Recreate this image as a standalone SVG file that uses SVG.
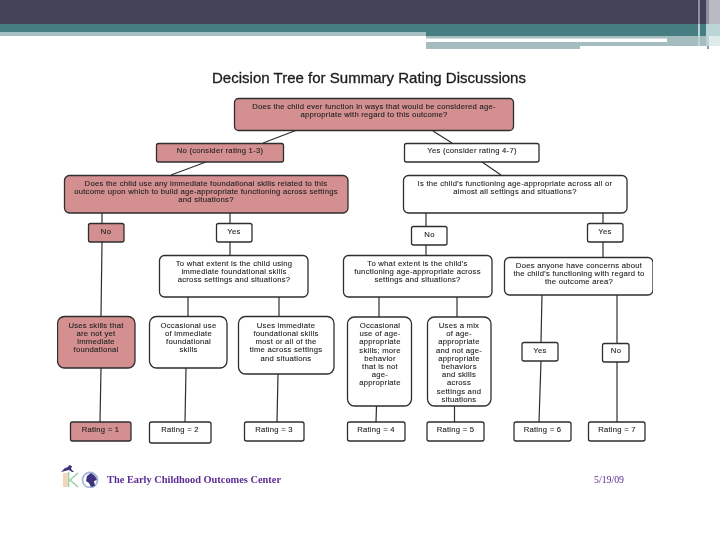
<svg xmlns="http://www.w3.org/2000/svg" width="720" height="540" viewBox="0 0 720 540">
<style>
text{font-family:"Liberation Sans",Arial,sans-serif;font-size:7.7px;letter-spacing:.24px;fill:#222;stroke:#222;stroke-width:.1;text-anchor:middle}
.n rect{stroke:#2e2e2e;stroke-width:1.3;fill:#fff}
.p rect{fill:#d48f90}
#connectors line{stroke:#2e2e2e;stroke-width:1.2}
</style>
<defs><filter id="soft" x="0" y="0" width="100%" height="100%"><feGaussianBlur stdDeviation="0.3"/></filter></defs>
<rect width="720" height="540" fill="#fff"/>
<g id="header">
<rect width="720" height="24" fill="#424358"/>
<rect y="24" width="720" height="8" fill="#467d83"/>
<rect y="32" width="426" height="4" fill="#a5bfc3"/>
<rect x="426" y="32" width="294" height="4" fill="#467d83"/>
<rect x="426" y="36" width="294" height="2.500" fill="#a5bdbf"/>
<rect x="426" y="42" width="241" height="4" fill="#a5bdbf"/>
<rect x="426" y="46" width="154" height="3" fill="#a5bdbf"/>
<rect x="667" y="38" width="42" height="8" fill="#a5bdbf"/>
<rect x="698" y="0" width="2" height="24" fill="#8f8fa0"/>
<rect x="706" y="0" width="3" height="24" fill="#8f8fa0"/>
<rect x="698" y="24" width="2" height="22" fill="#bcd3d6"/>
<rect x="706" y="24" width="3" height="22" fill="#bcd3d6"/>
<rect x="709" y="0" width="11" height="24" fill="#b9b9c1"/>
<rect x="709" y="24" width="11" height="12" fill="#bcd6d8"/>
<rect x="709" y="36" width="11" height="10" fill="#dfeaea"/>
<rect x="707" y="46" width="2" height="3" fill="#8f9ba0"/>
</g>
<g filter="url(#soft)">
<text x="369" y="83" textLength="314" lengthAdjust="spacingAndGlyphs" style="font-size:15px;letter-spacing:0;fill:#1c1c1c;stroke:#1c1c1c;stroke-width:.3">Decision Tree for Summary Rating Discussions</text>
<g id="connectors">
<line x1="297" y1="130" x2="263" y2="143"/><line x1="206" y1="162" x2="171" y2="175"/>
<line x1="433" y1="131" x2="452" y2="143"/><line x1="482" y1="162" x2="501" y2="175"/>
<line x1="102" y1="213" x2="102" y2="223"/><line x1="102" y1="242" x2="101" y2="316"/>
<line x1="230" y1="213" x2="230" y2="223"/><line x1="230" y1="242" x2="230" y2="255"/>
<line x1="426" y1="213" x2="426" y2="226"/><line x1="426" y1="245" x2="426" y2="255"/>
<line x1="603" y1="213" x2="603" y2="223"/><line x1="603" y1="242" x2="603" y2="257"/>
<line x1="188" y1="297" x2="188" y2="316"/><line x1="279" y1="297" x2="279" y2="316"/>
<line x1="379" y1="297" x2="379" y2="317"/><line x1="457" y1="297" x2="457" y2="317"/>
<line x1="542" y1="295" x2="541" y2="342"/><line x1="617" y1="295" x2="617" y2="343"/>
<line x1="541" y1="361" x2="539" y2="422"/><line x1="617" y1="362" x2="617" y2="422"/>
<line x1="101" y1="368" x2="100" y2="422"/><line x1="186" y1="368" x2="185" y2="422"/>
<line x1="278" y1="374" x2="277" y2="422"/><line x1="376.500" y1="406" x2="376" y2="422"/>
<line x1="454.500" y1="406" x2="454.500" y2="422"/>
</g>
<g id="n-top" class="n p"><rect x="234.500" y="98.500" width="279" height="32" rx="4"/><text x="374" y="109">Does the child ever function in ways that would be considered age-</text><text x="374" y="117.200">appropriate with regard to this outcome?</text></g>
<g id="n-no13" class="n p"><rect x="156.500" y="143.500" width="127" height="18.500" rx="2"/><text x="220" y="153">No (consider rating 1-3)</text></g>
<g id="n-yes47" class="n"><rect x="404.500" y="143.500" width="134.500" height="18.500" rx="2"/><text x="472" y="153">Yes (consider rating 4-7)</text></g>
<g id="n-q1" class="n p"><rect x="64.500" y="175.500" width="283.500" height="37.500" rx="5"/><text x="206" y="186">Does the child use any immediate foundational skills related to this</text><text x="206" y="194.200">outcome upon which to build age-appropriate functioning across settings</text><text x="206" y="202.400">and situations?</text></g>
<g id="n-q2" class="n"><rect x="403.500" y="175.500" width="223.500" height="37.500" rx="5"/><text x="515" y="186">Is the child's functioning age-appropriate across all or</text><text x="515" y="194.200">almost all settings and situations?</text></g>
<g id="n-no-a" class="n p"><rect x="88.500" y="223.500" width="35.500" height="18.500" rx="2"/><text x="106" y="233.500">No</text></g>
<g id="n-yes-a" class="n"><rect x="216.500" y="223.500" width="35.500" height="18.500" rx="2"/><text x="234" y="233.500">Yes</text></g>
<g id="n-no-b" class="n"><rect x="411.500" y="226.500" width="35.500" height="18.500" rx="2"/><text x="429.500" y="237">No</text></g>
<g id="n-yes-b" class="n"><rect x="587.500" y="223.500" width="35.500" height="18.500" rx="2"/><text x="605" y="233.500">Yes</text></g>
<g id="n-q3" class="n"><rect x="159.500" y="255.500" width="148.500" height="41.500" rx="5"/><text x="234" y="266">To what extent is the child using</text><text x="234" y="274.200">immediate foundational skills</text><text x="234" y="282.400">across settings and situations?</text></g>
<g id="n-q4" class="n"><rect x="343.500" y="255.500" width="148.500" height="41.500" rx="5"/><text x="417.500" y="266">To what extent is the child's</text><text x="417.500" y="274.200">functioning age-appropriate across</text><text x="417.500" y="282.400">settings and situations?</text></g>
<g id="n-q5" class="n"><rect x="504.500" y="257.500" width="148.500" height="37.500" rx="5"/><text x="579" y="268">Does anyone have concerns about</text><text x="579" y="276.200">the child's functioning with regard to</text><text x="579" y="284.400">the outcome area?</text></g>
<g id="n-b1" class="n p"><rect x="57.500" y="316.500" width="77.500" height="51.500" rx="7"/><text x="96" y="327.800">Uses skills that</text><text x="96" y="336">are not yet</text><text x="96" y="344.200">immediate</text><text x="96" y="352.400">foundational</text></g>
<g id="n-b2" class="n"><rect x="149.500" y="316.500" width="77.500" height="51.500" rx="7"/><text x="188.500" y="327.800">Occasional use</text><text x="188.500" y="336">of immediate</text><text x="188.500" y="344.200">foundational</text><text x="188.500" y="352.400">skills</text></g>
<g id="n-b3" class="n"><rect x="238.500" y="316.500" width="95.500" height="57.500" rx="7"/><text x="286" y="327.800">Uses immediate</text><text x="286" y="336">foundational skills</text><text x="286" y="344.200">most or all of the</text><text x="286" y="352.400">time across settings</text><text x="286" y="360.600">and situations</text></g>
<g id="n-b4" class="n"><rect x="347.500" y="317" width="64" height="89" rx="7"/><text x="380" y="328">Occasional</text><text x="380" y="336.200">use of age-</text><text x="380" y="344.400">appropriate</text><text x="380" y="352.600">skills; more</text><text x="380" y="360.800">behavior</text><text x="380" y="369">that is not</text><text x="380" y="377.200">age-</text><text x="380" y="385.400">appropriate</text></g>
<g id="n-b5" class="n"><rect x="427.500" y="317" width="63.500" height="89" rx="7"/><text x="459" y="328">Uses a mix</text><text x="459" y="336.200">of age-</text><text x="459" y="344.400">appropriate</text><text x="459" y="352.600">and not age-</text><text x="459" y="360.800">appropriate</text><text x="459" y="369">behaviors</text><text x="459" y="377.200">and skills</text><text x="459" y="385.400">across</text><text x="459" y="393.600">settings and</text><text x="459" y="401.800">situations</text></g>
<g id="n-yes-c" class="n"><rect x="522" y="342.500" width="36" height="18.500" rx="2"/><text x="540" y="352.500">Yes</text></g>
<g id="n-no-c" class="n"><rect x="602.500" y="343.500" width="26.500" height="18.500" rx="2"/><text x="616" y="353">No</text></g>
<g id="n-r1" class="n p"><rect x="70.500" y="422" width="60.500" height="19" rx="2"/><text x="100.500" y="432">Rating = 1</text></g>
<g id="n-r2" class="n"><rect x="149.500" y="422" width="61.500" height="21" rx="2"/><text x="180" y="432">Rating = 2</text></g>
<g id="n-r3" class="n"><rect x="244.500" y="422" width="59.500" height="19" rx="2"/><text x="274" y="432">Rating = 3</text></g>
<g id="n-r4" class="n"><rect x="347.500" y="422" width="57.500" height="19" rx="2"/><text x="376" y="432">Rating = 4</text></g>
<g id="n-r5" class="n"><rect x="427" y="422" width="57" height="19" rx="2"/><text x="455.500" y="432">Rating = 5</text></g>
<g id="n-r6" class="n"><rect x="514" y="422" width="57" height="19" rx="2"/><text x="542.500" y="432">Rating = 6</text></g>
<g id="n-r7" class="n"><rect x="588.500" y="422" width="56.500" height="19" rx="2"/><text x="617" y="432">Rating = 7</text></g>
<g id="footer">
<path d="M63 473h4.500v14H63z" fill="#f2d6bc"/>
<path d="M68.500 472v15M78 473l-8 7 8 7" fill="none" stroke="#9ccfa6" stroke-width="1.600"/>
<circle cx="90" cy="480" r="7.500" fill="none" stroke="#a7b8d8" stroke-width="1.800"/>
<path d="M87 476l4-3 4 3 2 4-3 1 1 5-4 1-2-4-3-2z" fill="#3a3380"/>
<path d="M61 472l4-4 3-1 1-2 3 1-1 3 3 3h-2l-3-2-4 1z" fill="#3a3380"/>
<text x="107" y="483" textLength="174" lengthAdjust="spacingAndGlyphs" style="font-family:'Liberation Serif',serif;font-size:10.200px;letter-spacing:0;font-weight:bold;fill:#5b2c95;stroke:none;text-anchor:start">The Early Childhood Outcomes Center</text>
<text x="594" y="483" textLength="30" lengthAdjust="spacingAndGlyphs" style="font-family:'Liberation Serif',serif;font-size:9.500px;letter-spacing:0;fill:#5b2c95;stroke:none;text-anchor:start">5/19/09</text>
</g>
</g>
</svg>
